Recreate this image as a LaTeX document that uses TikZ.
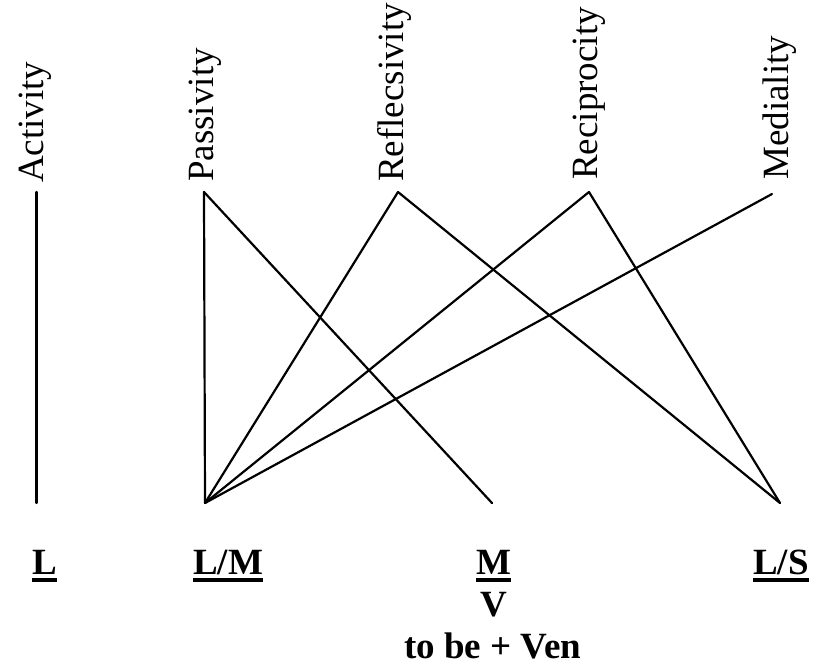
\documentclass[tikz,border=0pt]{standalone}
\usepackage{fontspec}
\setmainfont{Liberation Serif}
\newcommand\myul[1]{\setbox0\hbox{#1}\rlap{\rule[-8pt]{\wd0}{4pt}}\box0}
\begin{document}
\begin{tikzpicture}[x=1pt,y=-1pt,
  toplabel/.style={rotate=90,anchor=base west,inner sep=0pt,font=\fontsize{37}{44}\selectfont},
  botlabel/.style={inner sep=0pt,font=\fontsize{37}{44}\selectfont\bfseries},
  link/.style={line width=2.2pt,line cap=round,line join=round}]
\useasboundingbox (0,0) rectangle (820,670);
% top labels
\node[toplabel] (tact) at (43,183) {Activity};
\node[toplabel] (tpas) at (213,182) {Passivity};
\node[toplabel] (tref) at (403,182) {Reflecsivity};
\node[toplabel] (trec) at (597,180) {Reciprocity};
\node[toplabel] (tmed) at (788,180) {Mediality};
% line end points
\coordinate (acttop) at (36.5,192);
\coordinate (actbot) at (36.5,503);
\coordinate (pas) at (204,192);
\coordinate (ref) at (398,192);
\coordinate (rec) at (589,192);
\coordinate (med) at (772,194);
\coordinate (lm) at (205,503);
\coordinate (m) at (492,503);
\coordinate (ls) at (780,503);
% connectors
\draw[link] (acttop) -- (actbot);
\draw[link] (pas) -- (lm);
\draw[link] (pas) -- (m);
\draw[link] (ref) -- (lm);
\draw[link] (ref) -- (ls);
\draw[link] (rec) -- (lm);
\draw[link] (rec) -- (ls);
\draw[link] (med) -- (lm);
% bottom labels
\node[botlabel,anchor=base west] (bl) at (32,574) {\myul{L}};
\node[botlabel,anchor=base west] (blm) at (193,574) {\myul{L/M}};
\node[botlabel,anchor=base] (bm) at (493.5,574) {\myul{M}};
\node[botlabel,anchor=base] (bv) at (494,616) {V};
\node[botlabel,anchor=base] (bven) at (492.5,658) {to be + Ven};
\node[botlabel,anchor=base west] (bls) at (753,574) {\myul{L/S}};
\end{tikzpicture}
\end{document}
